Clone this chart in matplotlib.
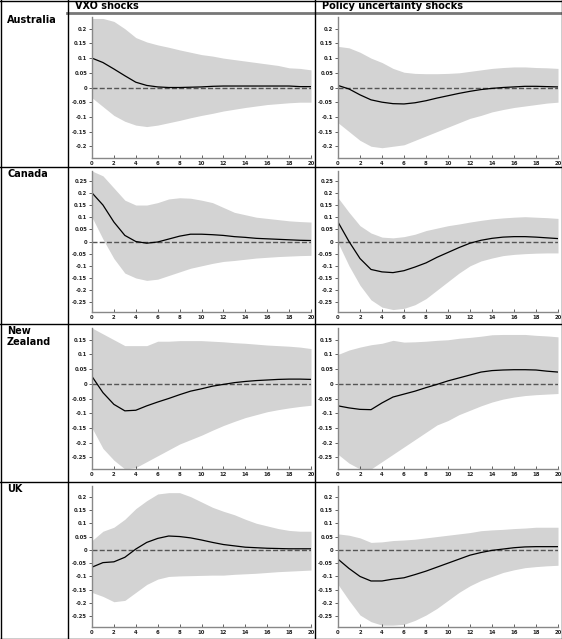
import matplotlib
matplotlib.use("Agg")
import matplotlib.pyplot as plt
from matplotlib.lines import Line2D
from matplotlib.ticker import FuncFormatter
import numpy as np

# horizons (quarters)
horizon = np.arange(21)

col_titles = ["VXO shocks", "Policy uncertainty shocks"]
countries = ["Australia", "Canada", "New\nZealand", "UK"]

# Australia
aus_vxo_mid = [0.10, 0.085, 0.063, 0.04, 0.018, 0.007, 0.002, 0.0, 0.0, 0.001, 0.002,
               0.004, 0.005, 0.005, 0.005, 0.005, 0.005, 0.005, 0.005, 0.003, 0.003]
aus_vxo_hi = [0.235, 0.235, 0.225, 0.20, 0.17, 0.155, 0.145, 0.137, 0.128, 0.12, 0.112,
              0.107, 0.10, 0.095, 0.09, 0.085, 0.08, 0.075, 0.067, 0.065, 0.06]
aus_vxo_lo = [-0.035, -0.065, -0.095, -0.115, -0.128, -0.133, -0.128, -0.12, -0.112, -0.103, -0.095,
              -0.088, -0.08, -0.074, -0.068, -0.063, -0.058, -0.055, -0.052, -0.05, -0.05]
aus_pol_mid = [0.007, -0.005, -0.025, -0.042, -0.05, -0.055, -0.056, -0.052, -0.045, -0.036, -0.028,
               -0.02, -0.013, -0.007, -0.003, 0.0, 0.002, 0.004, 0.004, 0.003, 0.002]
aus_pol_hi = [0.14, 0.135, 0.12, 0.10, 0.085, 0.065, 0.052, 0.048, 0.047, 0.047, 0.048,
              0.05, 0.055, 0.06, 0.065, 0.068, 0.07, 0.07, 0.068, 0.067, 0.065]
aus_pol_lo = [-0.12, -0.15, -0.18, -0.20, -0.205, -0.20, -0.195, -0.18, -0.165, -0.15, -0.135,
              -0.12, -0.105, -0.095, -0.083, -0.075, -0.068, -0.063, -0.058, -0.053, -0.05]

# Canada
can_vxo_mid = [0.20, 0.15, 0.08, 0.025, 0.0, -0.007, -0.002, 0.01, 0.022, 0.03, 0.03,
               0.028, 0.025, 0.02, 0.017, 0.013, 0.011, 0.009, 0.007, 0.005, 0.004]
can_vxo_hi = [0.29, 0.27, 0.22, 0.17, 0.15, 0.15, 0.16, 0.175, 0.18, 0.178, 0.17,
              0.16, 0.14, 0.12, 0.11, 0.10, 0.095, 0.09, 0.085, 0.082, 0.08]
can_vxo_lo = [0.10, 0.01, -0.07, -0.13, -0.15, -0.16, -0.155, -0.14, -0.125, -0.11, -0.10,
              -0.09, -0.082, -0.078, -0.073, -0.068, -0.065, -0.062, -0.06, -0.058, -0.057]
can_pol_mid = [0.08, 0.0, -0.07, -0.115, -0.125, -0.128, -0.12, -0.105, -0.088, -0.065, -0.045,
               -0.025, -0.007, 0.005, 0.013, 0.018, 0.02, 0.02, 0.018, 0.015, 0.012]
can_pol_hi = [0.18, 0.12, 0.065, 0.035, 0.018, 0.015, 0.02, 0.03, 0.045, 0.055, 0.065,
              0.072, 0.08, 0.087, 0.093, 0.097, 0.10, 0.102, 0.10, 0.098, 0.095]
can_pol_lo = [-0.005, -0.10, -0.18, -0.24, -0.27, -0.28, -0.275, -0.26, -0.235, -0.20, -0.165,
              -0.13, -0.10, -0.08, -0.068, -0.058, -0.053, -0.05, -0.048, -0.047, -0.047]

# New Zealand
nz_vxo_mid = [0.025, -0.03, -0.07, -0.092, -0.09, -0.075, -0.062, -0.05, -0.037, -0.025, -0.017,
              -0.008, -0.002, 0.004, 0.008, 0.011, 0.013, 0.015, 0.016, 0.016, 0.015]
nz_vxo_hi = [0.19, 0.17, 0.15, 0.13, 0.13, 0.13, 0.145, 0.145, 0.147, 0.147, 0.147,
             0.145, 0.143, 0.14, 0.138, 0.135, 0.132, 0.13, 0.128, 0.125, 0.12]
nz_vxo_lo = [-0.15, -0.22, -0.26, -0.29, -0.285, -0.265, -0.245, -0.225, -0.205, -0.19, -0.175,
             -0.158, -0.142, -0.128, -0.115, -0.105, -0.095, -0.088, -0.082, -0.077, -0.073]
nz_pol_mid = [-0.075, -0.082, -0.087, -0.088, -0.065, -0.045, -0.035, -0.025, -0.013, -0.002, 0.01,
              0.02, 0.03, 0.04, 0.045, 0.047, 0.048, 0.048, 0.047, 0.043, 0.04]
nz_pol_hi = [0.10, 0.115, 0.125, 0.133, 0.138, 0.148, 0.142, 0.143, 0.145, 0.148, 0.15,
             0.155, 0.158, 0.162, 0.167, 0.168, 0.168, 0.168, 0.165, 0.163, 0.16]
nz_pol_lo = [-0.24, -0.27, -0.29, -0.29, -0.265, -0.24, -0.215, -0.19, -0.165, -0.14, -0.125,
             -0.105, -0.09, -0.075, -0.062, -0.052, -0.045, -0.04, -0.037, -0.035, -0.033]

# UK
uk_vxo_mid = [-0.065, -0.048, -0.045, -0.028, 0.003, 0.028, 0.043, 0.052, 0.05, 0.045, 0.037,
              0.028, 0.02, 0.015, 0.01, 0.008, 0.006, 0.005, 0.004, 0.004, 0.004]
uk_vxo_hi = [0.035, 0.07, 0.085, 0.115, 0.155, 0.185, 0.21, 0.215, 0.215, 0.20, 0.18,
             0.16, 0.145, 0.132, 0.115, 0.10, 0.09, 0.08, 0.073, 0.07, 0.07]
uk_vxo_lo = [-0.16, -0.175, -0.195, -0.19, -0.16, -0.13, -0.11, -0.10, -0.098, -0.097, -0.096,
             -0.095, -0.095, -0.092, -0.09, -0.088, -0.085, -0.082, -0.08, -0.078, -0.076]
uk_pol_mid = [-0.035, -0.07, -0.10, -0.117, -0.117, -0.11, -0.105, -0.093, -0.08, -0.065, -0.05,
              -0.035, -0.02, -0.01, -0.002, 0.003, 0.008, 0.011, 0.012, 0.012, 0.012]
uk_pol_hi = [0.06, 0.055, 0.045, 0.028, 0.03, 0.035, 0.037, 0.04, 0.045, 0.05, 0.055,
             0.06, 0.065, 0.072, 0.075, 0.077, 0.08, 0.082, 0.085, 0.085, 0.085]
uk_pol_lo = [-0.13, -0.19, -0.245, -0.27, -0.283, -0.283, -0.28, -0.265, -0.245, -0.22, -0.19,
             -0.16, -0.135, -0.115, -0.10, -0.085, -0.075, -0.067, -0.063, -0.06, -0.058]

# y ticks / limits per country row
aus_yticks = [-0.2, -0.15, -0.1, -0.05, 0, 0.05, 0.1, 0.15, 0.2]
can_yticks = [-0.25, -0.2, -0.15, -0.1, -0.05, 0, 0.05, 0.1, 0.15, 0.2, 0.25]
nz_yticks = [-0.25, -0.2, -0.15, -0.1, -0.05, 0, 0.05, 0.1, 0.15]
uk_yticks = [-0.25, -0.2, -0.15, -0.1, -0.05, 0, 0.05, 0.1, 0.15, 0.2]
ylims = [(-0.24, 0.24), (-0.29, 0.29), (-0.29, 0.19), (-0.29, 0.24)]

rows = [
    (aus_yticks, [(aus_vxo_mid, aus_vxo_hi, aus_vxo_lo), (aus_pol_mid, aus_pol_hi, aus_pol_lo)]),
    (can_yticks, [(can_vxo_mid, can_vxo_hi, can_vxo_lo), (can_pol_mid, can_pol_hi, can_pol_lo)]),
    (nz_yticks, [(nz_vxo_mid, nz_vxo_hi, nz_vxo_lo), (nz_pol_mid, nz_pol_hi, nz_pol_lo)]),
    (uk_yticks, [(uk_vxo_mid, uk_vxo_hi, uk_vxo_lo), (uk_pol_mid, uk_pol_hi, uk_pol_lo)]),
]

W, H = 562, 639
fig = plt.figure(figsize=(W / 100, H / 100), dpi=100)
fig.patch.set_facecolor("white")


def px_rect(left, top, right, bottom):
    return [left / W, 1 - bottom / H, (right - left) / W, (bottom - top) / H]


def hline(y, x0, x1, color="black", lw=1.0):
    fig.add_artist(Line2D([x0 / W, x1 / W], [1 - y / H, 1 - y / H],
                          transform=fig.transFigure, color=color, lw=lw))


def vline(x, y0, y1, color="black", lw=1.0):
    fig.add_artist(Line2D([x / W, x / W], [1 - y0 / H, 1 - y1 / H],
                          transform=fig.transFigure, color=color, lw=lw))


# table grid
row_tops = [13, 167, 324, 482]
hline(0.5, 0, W)
hline(638.5, 0, W)
hline(12.5, 67, W, color="#777777", lw=2.0)
for y in row_tops[1:]:
    hline(y, 0, W)
vline(0.5, 0, H)
vline(561.5, 0, H)
vline(67.5, 0, H)
vline(314.5, 0, H)

fig.text(75 / W, 1 - 1 / H, col_titles[0], ha="left", va="top",
         fontsize=7, fontweight="bold")
fig.text(322 / W, 1 - 1 / H, col_titles[1], ha="left", va="top",
         fontsize=7, fontweight="bold")

fmt = FuncFormatter(lambda v, p: "%g" % round(v, 3))
col_lefts = [92, 338]
col_rights = [311, 558]

for r, (yt, panels) in enumerate(rows):
    top = row_tops[r]
    fig.text(7 / W, 1 - (top + 2) / H, countries[r], ha="left", va="top",
             fontsize=7, fontweight="bold", linespacing=1.1)
    for c, (mid, hi, lo) in enumerate(panels):
        ax = fig.add_axes(px_rect(col_lefts[c], top + 4, col_rights[c], top + 145))
        ax.fill_between(horizon, lo, hi, color="#d3d3d3", lw=0)
        ax.axhline(0, color="#555555", lw=1.0, ls=(0, (3.6, 1.6)))
        ax.plot(horizon, mid, color="black", lw=0.9)
        ax.set_xlim(0, 20)
        ax.set_ylim(*ylims[r])
        ax.set_xticks(np.arange(0, 21, 2))
        ax.set_yticks(yt)
        ax.yaxis.set_major_formatter(fmt)
        for s in ["top", "right"]:
            ax.spines[s].set_visible(False)
        for s in ["left", "bottom"]:
            ax.spines[s].set_color("#888888")
            ax.spines[s].set_linewidth(1.0)
        ax.tick_params(axis="y", direction="out", length=2, width=0.5,
                       labelsize=3.8, pad=1.5, colors="#222222")
        ax.tick_params(axis="x", direction="in", length=2, width=0.5,
                       labelsize=3.8, pad=2, colors="#222222")
        for lbl in ax.get_xticklabels() + ax.get_yticklabels():
            lbl.set_fontweight("bold")

fig.savefig("out.png", dpi=100, facecolor="white")
